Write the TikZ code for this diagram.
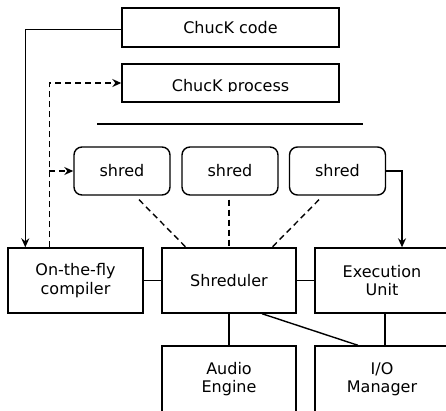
\documentclass[tikz,border=0pt]{standalone}
\usepackage{fontspec}
\setmainfont{DejaVu Sans}
\usetikzlibrary{arrows.meta}
\begin{document}
\begin{tikzpicture}[x=1pt,y=1pt,
  every node/.style={font=\fontsize{16}{18.5}\selectfont, inner sep=0pt, align=center},
  blk/.style={draw, line width=1.4pt, minimum width=134pt, minimum height=65pt},
  wide/.style={draw, line width=1.4pt, minimum width=217pt},
  shredbox/.style={draw, line width=1.4pt, rounded corners=8pt, minimum width=96pt, minimum height=48pt},
  conn/.style={line width=1.4pt},
  dconn/.style={line width=1.4pt, dash pattern=on 6pt off 4pt},
  tip/.style={-{Stealth[length=9pt,width=8pt,inset=3pt]}}
]
\useasboundingbox (0,0) rectangle (446,-410);
\begin{scope}
\clip (0,0) rectangle (446,-410);

% top boxes
\node[wide, minimum height=39pt] (code) at (230.5,-27.5) {ChucK code};
\node[wide, minimum height=38pt] (process) at (230.5,-83) {};
\begin{scope}
  \clip (122,-64) rectangle (339,-91);
  \node (proclabel) at (230.5,-87.5) {ChucK process};
\end{scope}

% separator
\coordinate (sepL) at (97,-124);
\coordinate (sepR) at (363,-124);
\draw[conn] (sepL) -- (sepR);

% shreds
\node[shredbox] (s1) at (122,-171) {shred};
\node[shredbox] (s2) at (230,-171) {shred};
\node[shredbox] (s3) at (337.5,-171) {shred};

% middle row
\node[blk, minimum width=135pt] (otf) at (75.5,-280.5) {On-the-fly\\compiler};
\node[blk] (sched) at (229,-280.5) {Shreduler};
\node[blk] (exec) at (382,-280.5) {Execution\\Unit};

% bottom row
\node[blk, minimum height=66pt] (audio) at (229,-379) {Audio\\Engine};
\node[blk, minimum height=66pt] (io) at (382,-379) {I/O\\Manager};

% connectors
\coordinate (down) at ([xshift=18pt]otf.north west);
\coordinate (up) at ([xshift=42pt]otf.north west);
\draw[conn, tip] ([yshift=-2pt]code.west) -| (down);
\draw[dconn, tip] (up) |- (process.west);
\draw[dconn, tip] (up |- s1.west) -- (s1.west);
\draw[conn, tip] (s3.east) -| ([xshift=20pt]exec.north);

\draw[dconn] ([xshift=17pt,yshift=-4pt]s1.south) -- ([xshift=-43pt]sched.north);
\draw[dconn] ([xshift=-1pt,yshift=-4pt]s2.south) -- (sched.north);
\draw[dconn] ([xshift=-18.5pt,yshift=-4pt]s3.south) -- ([xshift=43pt]sched.north);

\draw[conn] (otf.east) -- (sched.west);
\draw[conn] (sched.east) -- (exec.west);
\draw[conn] (sched.south) -- (audio.north);
\draw[conn] ([xshift=33pt]sched.south) -- ([xshift=-24pt]io.north);
\draw[conn] ([xshift=3pt]exec.south) -- ([xshift=3pt]io.north);
\end{scope}
\end{tikzpicture}
\end{document}
